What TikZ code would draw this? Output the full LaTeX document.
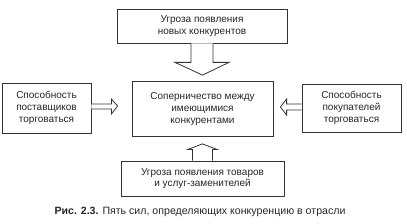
\documentclass[tikz,border=0pt]{standalone}
\usepackage{fontspec}
\setmainfont{Liberation Sans}
\usetikzlibrary{calc}
\begin{document}
\begin{tikzpicture}[x=1pt,y=-1pt,
  box/.style={draw=black!80,line width=0.8pt,inner sep=0pt,align=center,
    font=\fontsize{10}{11.8}\selectfont,text=black!85},
  hollow/.style={draw=black!80,line width=0.8pt,fill=white,line join=miter}]
\useasboundingbox (0,0) rectangle (407,224);
\node[box,minimum width=170pt,minimum height=34pt] (top) at (202,26)
  {Угроза появления\\новых конкурентов};
\node[box,minimum width=141pt,minimum height=55pt] (mid) at (202.5,109)
  {Соперничество между\\имеющимися\\конкурентами};
\node[box,minimum width=89pt,minimum height=50pt] (left) at (46.5,108)
  {Способность\\поставщиков\\торговаться};
\node[box,minimum width=99pt,minimum height=48pt] (right) at (351.5,108)
  {Способность\\покупателей\\торговаться};
\node[box,minimum width=163pt,minimum height=35pt] (bot) at (202.5,178.5)
  {Угроза появления товаров\\и услуг-заменителей};
\node[inner sep=0pt,font=\fontsize{10.6}{12}\selectfont,text=black!85] (cap) at (200,212)
  {\textbf{Рис. 2.3.} Пять сил, определяющих конкуренцию в отрасли};
% top arrow
\draw[hollow] ($(top.south)+(-11,0)$) -- ++(0,19) -- ++(-16,0)
  -- ($(mid.north)+(0,-6)$) -- ($(top.south)+(27,19)$) -- ++(-16,0) -- ($(top.south)+(11,0)$);
% bottom arrow
\draw[hollow] ($(bot.north)+(-10,0)$) -- ++(0,-11) -- ++(-5,0)
  -- ($(mid.south)+(0,7)$) -- ($(bot.north)+(15,-11)$) -- ++(-5,0) -- ($(bot.north)+(10,0)$);
% left arrow
\draw[hollow] ($(left.east)+(0,-4)$) -- ++(20,0) -- ++(0,-5)
  -- ($(mid.west)+(-14,-3)$) -- ($(left.east)+(20,6)$) -- ++(0,-5) -- ++(-20,0);
% right arrow
\draw[hollow] ($(right.west)+(0,-4)$) -- ++(-15,0) -- ++(0,-5)
  -- ($(mid.east)+(7,-2)$) -- ($(right.west)+(-15,7)$) -- ++(0,-5) -- ++(15,0);
\end{tikzpicture}
\end{document}
